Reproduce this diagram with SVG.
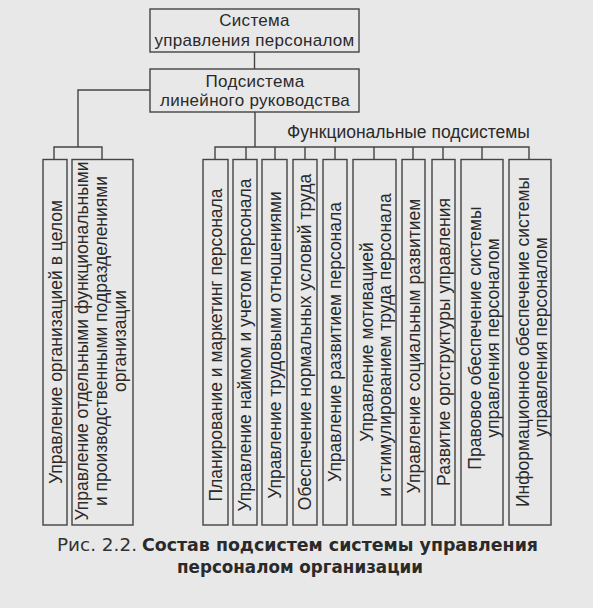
<svg xmlns="http://www.w3.org/2000/svg" width="593" height="608" viewBox="0 0 593 608">
<style>
.bg{fill:#e8e8e8}
.box{fill:none;stroke:#444;stroke-width:1.4}
.ln{fill:none;stroke:#444;stroke-width:1.4}
.t{font-family:"Liberation Sans",Arial,sans-serif;font-size:17.5px;fill:#2a2a2a}
.h{font-family:"Liberation Sans",Arial,sans-serif;font-size:17px;fill:#2a2a2a;text-anchor:middle;letter-spacing:0.3px}
.m{text-anchor:middle}
.cap{font-family:"DejaVu Sans","Liberation Sans",sans-serif;font-size:17px;fill:#333}
.capb{font-family:"DejaVu Sans","Liberation Sans",sans-serif;font-size:17px;font-weight:bold;fill:#2a2a2a}
</style>
<rect class="bg" x="0" y="0" width="593" height="608"/>
<g id="connectors">
<path class="ln" d="M254.5 52V69"/>
<path class="ln" d="M150 90H78V147"/>
<path class="ln" d="M54 159.5V147H102V159.5"/>
<path class="ln" d="M255 112V147"/>
<path class="ln" d="M215 159.5V147H529V159.5"/>
<path class="ln" d="M246 147V159.5M275 147V159.5M305 147V159.5M335 147V159.5M374 147V159.5M413 147V159.5M443 147V159.5M482 147V159.5"/>
</g>
<g id="n-system">
<rect class="box" x="150" y="9" width="209" height="43"/>
<text class="h" x="254.5" y="26">Система</text>
<text class="h" x="254.5" y="45.5">управления персоналом</text>
</g>
<g id="n-linear">
<rect class="box" x="150" y="69" width="209" height="43"/>
<text class="h" x="255" y="86.5">Подсистема</text>
<text class="h" x="255" y="106">линейного руководства</text>
</g>
<g id="n-functional-label">
<text class="t" x="287" y="138">Функциональные подсистемы</text>
</g>
<g id="n-org">
<rect class="box" x="43" y="159.5" width="24" height="365.5"/>
<text class="t m" transform="translate(61.5,342) rotate(-90)">Управление организацией в целом</text>
</g>
<g id="n-units">
<rect class="box" x="72" y="159.5" width="61" height="365.5"/>
<text class="t m" transform="translate(88,341) rotate(-90)">Управление отдельными функциональными</text>
<text class="t m" transform="translate(107,341) rotate(-90)">и производственными подразделениями</text>
<text class="t m" transform="translate(126,341) rotate(-90)">организации</text>
</g>
<g id="n-plan">
<rect class="box" x="203" y="159.5" width="25" height="365.5"/>
<text class="t m" transform="translate(221.5,345) rotate(-90)">Планирование и маркетинг персонала</text>
</g>
<g id="n-hire">
<rect class="box" x="233" y="159.5" width="24" height="365.5"/>
<text class="t m" transform="translate(251,345) rotate(-90)">Управление наймом и учетом персонала</text>
</g>
<g id="n-labour">
<rect class="box" x="262" y="159.5" width="25" height="365.5"/>
<text class="t m" transform="translate(280.5,345) rotate(-90)">Управление трудовыми отношениями</text>
</g>
<g id="n-conditions">
<rect class="box" x="293" y="159.5" width="24" height="365.5"/>
<text class="t m" transform="translate(311,342) rotate(-90)">Обеспечение нормальных условий труда</text>
</g>
<g id="n-development">
<rect class="box" x="323" y="159.5" width="24" height="365.5"/>
<text class="t m" transform="translate(341,342) rotate(-90)">Управление развитием персонала</text>
</g>
<g id="n-motivation">
<rect class="box" x="353" y="159.5" width="43" height="365.5"/>
<text class="t m" transform="translate(373,342) rotate(-90)">Управление мотивацией</text>
<text class="t m" transform="translate(391,345) rotate(-90)">и стимулированием труда персонала</text>
</g>
<g id="n-social">
<rect class="box" x="402" y="159.5" width="23" height="365.5"/>
<text class="t m" transform="translate(419.5,346) rotate(-90)">Управление социальным развитием</text>
</g>
<g id="n-structure">
<rect class="box" x="432" y="159.5" width="23" height="365.5"/>
<text class="t m" transform="translate(449.5,342) rotate(-90)">Развитие оргструктуры управления</text>
</g>
<g id="n-legal">
<rect class="box" x="461" y="159.5" width="42" height="365.5"/>
<text class="t m" transform="translate(481,338) rotate(-90)">Правовое обеспечение системы</text>
<text class="t m" transform="translate(499,338) rotate(-90)">управления персоналом</text>
</g>
<g id="n-info">
<rect class="box" x="509" y="159.5" width="42" height="365.5"/>
<text class="t m" transform="translate(528.5,342) rotate(-90)">Информационное обеспечение системы</text>
<text class="t m" transform="translate(546.5,337) rotate(-90)">управления персоналом</text>
</g>
<g id="caption">
<text class="cap" x="57" y="551" textLength="80" lengthAdjust="spacingAndGlyphs">Рис. 2.2.</text>
<text class="capb" x="142" y="551" textLength="396" lengthAdjust="spacingAndGlyphs">Состав подсистем системы управления</text>
<text class="capb" x="177" y="573" textLength="246" lengthAdjust="spacingAndGlyphs">персоналом организации</text>
</g>
</svg>
